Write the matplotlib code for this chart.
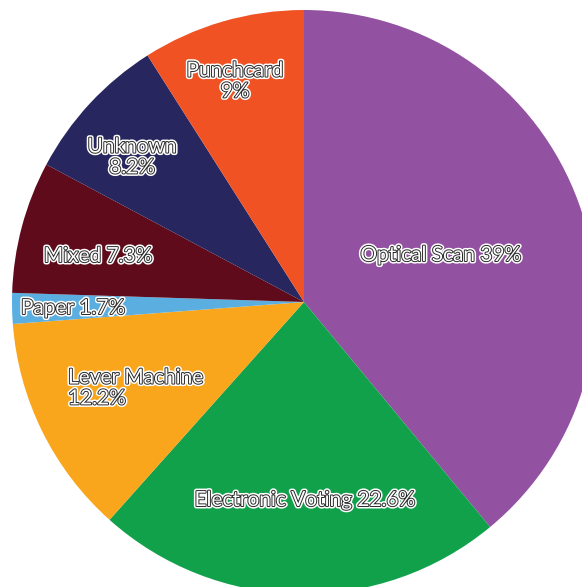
import matplotlib
matplotlib.use("Agg")
import matplotlib.pyplot as plt
import matplotlib.patheffects as pe

categories = ["Optical Scan", "Electronic Voting", "Lever Machine", "Paper",
              "Mixed", "Unknown", "Punchcard"]
values = [39, 22.6, 12.2, 1.7, 7.3, 8.2, 9]
labels = ["Optical Scan 39%", "Electronic Voting 22.6%", "Lever Machine\n12.2%",
          "Paper 1.7%", "Mixed 7.3%", "Unknown\n8.2%", "Punchcard\n9%"]
colors = ["#9251A1", "#12A14B", "#F9A61D", "#5AAEE0", "#600B1B", "#28265F", "#F05224"]

W, H = 582, 587
CX, CY, R = 304, 302, 292

fig = plt.figure(figsize=(W / 100, H / 100), dpi=100)
ax = fig.add_axes([0, 0, 1, 1])
ax.pie(values, colors=colors, startangle=90, counterclock=False,
       radius=1.0, center=(0, 0), wedgeprops=dict(linewidth=0))
ax.set_aspect("equal")
ax.set_xlim(-CX / R, (W - CX) / R)
ax.set_ylim((CY - H) / R, CY / R)
ax.axis("off")

def d(px, py):
    return ((px - CX) / R, (CY - py) / R)

label_pos = [d(441, 255), d(305, 500), d(68, 388), d(73, 308),
             d(98, 256), d(132, 157), d(235, 81)]
aligns = ["center", "center", "left", "center", "center", "center", "center"]

effects = [pe.Stroke(linewidth=3.6, foreground="white"),
           pe.Stroke(linewidth=1.4, foreground="#2a2a2a"),
           pe.Normal()]
for lab, (x, y), ha in zip(labels, label_pos, aligns):
    ax.text(x, y, lab, ha=ha, va="center", multialignment=ha,
            color="white", fontsize=15, family="Lato",
            linespacing=1.05, path_effects=effects)

fig.savefig("out.png", dpi=100)
